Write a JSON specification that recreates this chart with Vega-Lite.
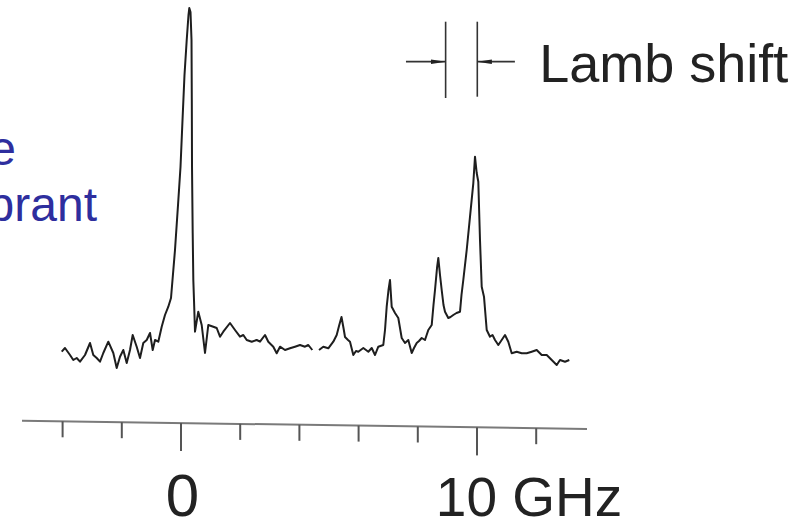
{
  "$schema": "https://vega.github.io/schema/vega-lite/v6.json",
  "width": 805,
  "height": 521,
  "padding": 0,
  "autosize": {"type": "none"},
  "background": "white",
  "config": {"view": {"stroke": null}},
  "datasets": {
    "spectrum": [
      {"f": -4.030, "v": 71.3, "seg": 1}, {"f": -3.919, "v": 75, "seg": 1}, {"f": -3.750, "v": 68, "seg": 1},
      {"f": -3.639, "v": 63, "seg": 1}, {"f": -3.524, "v": 65, "seg": 1}, {"f": -3.412, "v": 61.3, "seg": 1},
      {"f": -3.243, "v": 68, "seg": 1}, {"f": -3.074, "v": 80, "seg": 1}, {"f": -2.963, "v": 68, "seg": 1},
      {"f": -2.848, "v": 65, "seg": 1}, {"f": -2.736, "v": 61.3, "seg": 1}, {"f": -2.625, "v": 70, "seg": 1},
      {"f": -2.456, "v": 81.3, "seg": 1}, {"f": -2.287, "v": 70, "seg": 1}, {"f": -2.172, "v": 55, "seg": 1},
      {"f": -2.061, "v": 66.3, "seg": 1}, {"f": -1.949, "v": 73, "seg": 1}, {"f": -1.834, "v": 60, "seg": 1},
      {"f": -1.723, "v": 73, "seg": 1}, {"f": -1.632, "v": 88, "seg": 1}, {"f": -1.497, "v": 76.3, "seg": 1},
      {"f": -1.385, "v": 65, "seg": 1}, {"f": -1.274, "v": 80, "seg": 1}, {"f": -1.159, "v": 83, "seg": 1},
      {"f": -1.047, "v": 90, "seg": 1}, {"f": -0.956, "v": 73, "seg": 1}, {"f": -0.878, "v": 83, "seg": 1},
      {"f": -0.767, "v": 81.3, "seg": 1}, {"f": -0.652, "v": 96.3, "seg": 1}, {"f": -0.541, "v": 108, "seg": 1},
      {"f": -0.429, "v": 116.3, "seg": 1}, {"f": -0.338, "v": 125, "seg": 1}, {"f": -0.203, "v": 173, "seg": 1},
      {"f": -0.101, "v": 218, "seg": 1}, {"f": -0.017, "v": 256, "seg": 1}, {"f": 0.051, "v": 303, "seg": 1},
      {"f": 0.118, "v": 348, "seg": 1}, {"f": 0.193, "v": 383, "seg": 1}, {"f": 0.253, "v": 408, "seg": 1},
      {"f": 0.280, "v": 415, "seg": 1}, {"f": 0.321, "v": 411, "seg": 1}, {"f": 0.355, "v": 383, "seg": 1},
      {"f": 0.365, "v": 323, "seg": 1}, {"f": 0.372, "v": 256, "seg": 1}, {"f": 0.395, "v": 190, "seg": 1},
      {"f": 0.416, "v": 143, "seg": 1}, {"f": 0.439, "v": 123, "seg": 1}, {"f": 0.473, "v": 91.3, "seg": 1},
      {"f": 0.584, "v": 111.3, "seg": 1}, {"f": 0.699, "v": 98, "seg": 1}, {"f": 0.811, "v": 70, "seg": 1},
      {"f": 0.922, "v": 98, "seg": 1}, {"f": 1.091, "v": 96.3, "seg": 1}, {"f": 1.206, "v": 95, "seg": 1},
      {"f": 1.318, "v": 86.3, "seg": 1}, {"f": 1.429, "v": 91.3, "seg": 1}, {"f": 1.655, "v": 100, "seg": 1},
      {"f": 1.824, "v": 93, "seg": 1}, {"f": 1.993, "v": 86.3, "seg": 1}, {"f": 2.105, "v": 88, "seg": 1},
      {"f": 2.220, "v": 83, "seg": 1}, {"f": 2.389, "v": 81.3, "seg": 1}, {"f": 2.557, "v": 83, "seg": 1},
      {"f": 2.669, "v": 81.3, "seg": 1}, {"f": 2.838, "v": 88, "seg": 1}, {"f": 2.949, "v": 81.3, "seg": 1},
      {"f": 3.118, "v": 76.3, "seg": 1}, {"f": 3.233, "v": 69.7, "seg": 1}, {"f": 3.345, "v": 76.3, "seg": 1},
      {"f": 3.514, "v": 73, "seg": 1}, {"f": 3.682, "v": 74.7, "seg": 1}, {"f": 3.851, "v": 76.3, "seg": 1},
      {"f": 4.020, "v": 78, "seg": 1}, {"f": 4.189, "v": 76.3, "seg": 1}, {"f": 4.301, "v": 78, "seg": 1},
      {"f": 4.436, "v": 73, "seg": 1},
      {"f": 4.662, "v": 73, "seg": 2}, {"f": 4.807, "v": 76.3, "seg": 2}, {"f": 4.976, "v": 74.7, "seg": 2},
      {"f": 5.145, "v": 81.3, "seg": 2}, {"f": 5.260, "v": 88, "seg": 2}, {"f": 5.338, "v": 97, "seg": 2},
      {"f": 5.422, "v": 106, "seg": 2}, {"f": 5.490, "v": 95, "seg": 2}, {"f": 5.541, "v": 86, "seg": 2},
      {"f": 5.642, "v": 83, "seg": 2}, {"f": 5.709, "v": 81.3, "seg": 2}, {"f": 5.821, "v": 68, "seg": 2},
      {"f": 5.912, "v": 72, "seg": 2}, {"f": 5.990, "v": 71.3, "seg": 2}, {"f": 6.159, "v": 75, "seg": 2},
      {"f": 6.250, "v": 73, "seg": 2}, {"f": 6.328, "v": 71.3, "seg": 2}, {"f": 6.443, "v": 75, "seg": 2},
      {"f": 6.554, "v": 68, "seg": 2}, {"f": 6.666, "v": 76.3, "seg": 2}, {"f": 6.834, "v": 78, "seg": 2},
      {"f": 6.892, "v": 93, "seg": 2}, {"f": 6.949, "v": 116.3, "seg": 2}, {"f": 7.010, "v": 133, "seg": 2},
      {"f": 7.061, "v": 143, "seg": 2}, {"f": 7.118, "v": 116.3, "seg": 2}, {"f": 7.230, "v": 110, "seg": 2},
      {"f": 7.341, "v": 105, "seg": 2}, {"f": 7.456, "v": 85, "seg": 2}, {"f": 7.568, "v": 80, "seg": 2},
      {"f": 7.679, "v": 83, "seg": 2}, {"f": 7.794, "v": 70, "seg": 2}, {"f": 7.872, "v": 75, "seg": 2},
      {"f": 7.963, "v": 80, "seg": 2}, {"f": 8.041, "v": 82, "seg": 2}, {"f": 8.132, "v": 85, "seg": 2},
      {"f": 8.243, "v": 83, "seg": 2}, {"f": 8.355, "v": 93, "seg": 2}, {"f": 8.470, "v": 98, "seg": 2},
      {"f": 8.530, "v": 118, "seg": 2}, {"f": 8.581, "v": 133, "seg": 2}, {"f": 8.649, "v": 155, "seg": 2},
      {"f": 8.693, "v": 165, "seg": 2}, {"f": 8.750, "v": 148, "seg": 2}, {"f": 8.807, "v": 133, "seg": 2},
      {"f": 8.868, "v": 118, "seg": 2}, {"f": 8.919, "v": 111.3, "seg": 2}, {"f": 9.030, "v": 105, "seg": 2},
      {"f": 9.105, "v": 106, "seg": 2}, {"f": 9.199, "v": 108, "seg": 2}, {"f": 9.307, "v": 110, "seg": 2},
      {"f": 9.426, "v": 111.3, "seg": 2}, {"f": 9.476, "v": 128, "seg": 2}, {"f": 9.537, "v": 143, "seg": 2},
      {"f": 9.652, "v": 173, "seg": 2}, {"f": 9.764, "v": 206.3, "seg": 2}, {"f": 9.875, "v": 239.7, "seg": 2},
      {"f": 9.932, "v": 266.3, "seg": 2}, {"f": 9.990, "v": 250, "seg": 2}, {"f": 10.044, "v": 241.3, "seg": 2},
      {"f": 10.101, "v": 183, "seg": 2}, {"f": 10.159, "v": 136.3, "seg": 2}, {"f": 10.236, "v": 126.3, "seg": 2},
      {"f": 10.328, "v": 93, "seg": 2}, {"f": 10.439, "v": 86.3, "seg": 2}, {"f": 10.524, "v": 88, "seg": 2},
      {"f": 10.608, "v": 83, "seg": 2}, {"f": 10.720, "v": 78, "seg": 2}, {"f": 10.834, "v": 83, "seg": 2},
      {"f": 10.946, "v": 88, "seg": 2}, {"f": 11.057, "v": 81.3, "seg": 2}, {"f": 11.172, "v": 69.7, "seg": 2},
      {"f": 11.341, "v": 71.3, "seg": 2}, {"f": 11.510, "v": 69.7, "seg": 2}, {"f": 11.679, "v": 69.7, "seg": 2},
      {"f": 11.848, "v": 71.3, "seg": 2}, {"f": 12.017, "v": 73, "seg": 2}, {"f": 12.186, "v": 68, "seg": 2},
      {"f": 12.355, "v": 68, "seg": 2}, {"f": 12.524, "v": 63, "seg": 2}, {"f": 12.693, "v": 58, "seg": 2},
      {"f": 12.804, "v": 63, "seg": 2}, {"f": 12.973, "v": 61.3, "seg": 2}, {"f": 13.118, "v": 63, "seg": 2}
    ],
    "ticks": [
      {"f": -4, "top": 1.7, "bottom": -14.3}, {"f": -2, "top": 0.8, "bottom": -15.2},
      {"f": 0, "top": 0, "bottom": -28}, {"f": 2, "top": -0.9, "bottom": -16.9},
      {"f": 4, "top": -1.8, "bottom": -17.8}, {"f": 6, "top": -2.6, "bottom": -18.6},
      {"f": 8, "top": -3.5, "bottom": -19.5}, {"f": 10, "top": -4.4, "bottom": -32.4},
      {"f": 12, "top": -5.2, "bottom": -21.2}
    ]
  },
  "encoding": {
    "x": {"type": "quantitative", "scale": {"domain": [-6.115, 21.081], "nice": false, "zero": false}, "axis": null},
    "y": {"type": "quantitative", "scale": {"domain": [-98, 423], "nice": false, "zero": false}, "axis": null}
  },
  "layer": [
    {
      "data": {"values": [{"f1": -5.372, "v1": 2.3, "f2": 13.716, "v2": -6}]},
      "mark": {"type": "rule", "color": "#7a7a7a", "strokeWidth": 2},
      "encoding": {"x": {"field": "f1"}, "y": {"field": "v1"}, "x2": {"field": "f2"}, "y2": {"field": "v2"}}
    },
    {
      "data": {"name": "ticks"},
      "mark": {"type": "rule", "color": "#555555", "strokeWidth": 2},
      "encoding": {"x": {"field": "f"}, "y": {"field": "top"}, "y2": {"field": "bottom"}}
    },
    {
      "data": {"name": "spectrum"},
      "mark": {"type": "line", "color": "#1e1e1e", "strokeWidth": 2, "strokeJoin": "round"},
      "encoding": {"x": {"field": "f"}, "y": {"field": "v"}, "detail": {"field": "seg", "type": "nominal"}}
    },
    {
      "data": {"values": [{"f": 8.94, "top": 401.3, "bottom": 325}, {"f": 10.01, "top": 401.3, "bottom": 326.3}]},
      "mark": {"type": "rule", "color": "#333333", "strokeWidth": 1.6},
      "encoding": {"x": {"field": "f"}, "y": {"field": "top"}, "y2": {"field": "bottom"}}
    },
    {
      "data": {"values": [{"f1": 7.6, "f2": 8.94, "v": 361.3}, {"f1": 10.01, "f2": 11.28, "v": 361.3}]},
      "mark": {"type": "rule", "color": "#333333", "strokeWidth": 1.8},
      "encoding": {"x": {"field": "f1"}, "x2": {"field": "f2"}, "y": {"field": "v"}}
    },
    {
      "data": {"values": [
        {"f": 8.70, "v": 361.3, "shape": "M-1,-0.3L1,0L-1,0.3Z"},
        {"f": 10.25, "v": 361.3, "shape": "M1,-0.3L-1,0L1,0.3Z"}
      ]},
      "mark": {"type": "point", "filled": true, "color": "#222222", "opacity": 1, "size": 225},
      "encoding": {"x": {"field": "f"}, "y": {"field": "v"}, "shape": {"field": "shape", "type": "nominal", "scale": null}}
    },
    {
      "data": {"values": [{"f": 0.05, "v": -93, "label": "0"}]},
      "mark": {"type": "text", "align": "center", "baseline": "alphabetic", "fontSize": 60, "font": "Liberation Sans", "color": "#222222"},
      "encoding": {"x": {"field": "f"}, "y": {"field": "v"}, "text": {"field": "label"}}
    },
    {
      "data": {"values": [
        {"f": 11.76, "v": -93, "label": "10 GHz", "size": 55}
      ]},
      "mark": {"type": "text", "align": "center", "baseline": "alphabetic", "font": "Liberation Sans", "color": "#222222"},
      "encoding": {"x": {"field": "f"}, "y": {"field": "v"}, "text": {"field": "label"}, "size": {"field": "size", "type": "quantitative", "scale": null}}
    },
    {
      "data": {"values": [
        {"f": 12.1, "v": 341.3, "label": "Lamb shift", "size": 54}
      ]},
      "mark": {"type": "text", "align": "left", "baseline": "alphabetic", "font": "Liberation Sans", "color": "#222222"},
      "encoding": {"x": {"field": "f"}, "y": {"field": "v"}, "text": {"field": "label"}, "size": {"field": "size", "type": "quantitative", "scale": null}}
    },
    {
      "data": {"values": [
        {"f": -5.574, "v": 258, "label": "e"},
        {"f": -2.838, "v": 202, "label": "brant"}
      ]},
      "mark": {"type": "text", "align": "right", "baseline": "alphabetic", "fontSize": 48, "font": "Liberation Sans", "color": "#2e2e9e"},
      "encoding": {"x": {"field": "f"}, "y": {"field": "v"}, "text": {"field": "label"}}
    }
  ]
}
